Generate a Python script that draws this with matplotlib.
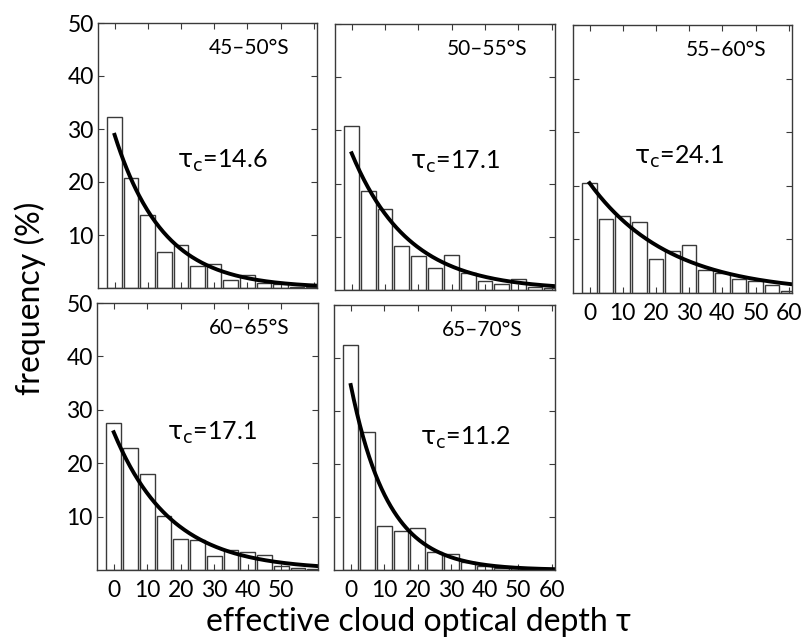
import numpy as np
import matplotlib; matplotlib.use("Agg")
import matplotlib.pyplot as plt

plt.rcParams['font.family'] = ['Lato', 'DejaVu Sans']
plt.rcParams['mathtext.fontset'] = 'custom'
plt.rcParams['mathtext.rm'] = 'DejaVu Sans'

# bin centres of the optical-depth histograms
tau_bins = [0, 5, 10, 15, 20, 25, 30, 35, 40, 45, 50, 55, 60]

regions = ["45\u201350\u00b0S", "50\u201355\u00b0S", "55\u201360\u00b0S",
           "60\u201365\u00b0S", "65\u201370\u00b0S"]
tau_c = [14.6, 17.1, 24.1, 17.1, 11.2]
fit_amp = [28.9, 25.7, 20.5, 25.8, 34.9]

freq_45_50 = [32.2, 20.7, 13.8, 6.8, 8.1, 4.2, 4.6, 1.5, 2.5, 0.9, 0.7, 0.2, 0.1]
freq_50_55 = [30.8, 18.6, 15.2, 8.3, 6.3, 4.2, 6.6, 3.2, 1.6, 1.1, 2.0, 0.5, 0.4]
freq_55_60 = [20.6, 13.8, 14.4, 13.3, 6.3, 7.8, 9.0, 4.2, 3.7, 2.6, 2.2, 1.4, 0.4]
freq_60_65 = [27.6, 22.9, 17.9, 10.1, 5.8, 5.6, 2.7, 3.8, 3.3, 2.9, 0.8, 0.4, 0.2]
freq_65_70 = [42.4, 26.0, 8.3, 7.4, 7.9, 3.4, 3.0, 1.5, 0.8, 0.4, 0.3, 0.2, 0.1]
freqs = [freq_45_50, freq_50_55, freq_55_60, freq_60_65, freq_65_70]

W, H = 805, 642
fig = plt.figure(figsize=(W/100, H/100), dpi=100)

# pixel boxes (left, right, top, bottom) of each panel
boxes = [(98, 317, 23, 288), (335, 555, 24, 290), (573, 792, 25, 293),
         (97, 318, 303, 570), (334, 555, 305, 570)]
xlab_ticks = [None, None, [0, 10, 20, 30, 40, 50, 60],
              [0, 10, 20, 30, 40, 50], [0, 10, 20, 30, 40, 50, 60]]
show_y = [True, False, False, True, False]
# label positions in data coords: region label (x, y), tau_c label (x, y)
reg_pos = [(28.5, 45.3), (28.5, 45.3), (29.0, 45.3), (28.3, 45.3), (27.3, 45.3)]
tc_pos = [(18.8, 24.0), (17.5, 24.0), (13.4, 25.4), (15.8, 25.6), (20.7, 25.0)]

edge = '#3a3a3a'
for k in range(5):
    l, r, t, b = boxes[k]
    ax = fig.add_axes([l/W, 1 - b/H, (r - l)/W, (b - t)/H])
    ax.bar(tau_bins, freqs[k], width=4.4, color='white', edgecolor=edge,
           linewidth=1.0)
    xx = np.linspace(0, 61, 200)
    ax.plot(xx, fit_amp[k]*np.exp(-xx/tau_c[k]), color='black', lw=2.8)
    ax.set_xlim(-5, 61)
    ax.set_ylim(0, 50)
    ax.set_xticks([0, 10, 20, 30, 40, 50, 60])
    ax.set_yticks([10, 20, 30, 40, 50])
    ax.tick_params(direction='in', top=True, right=True, length=4,
                   width=0.8, color=edge, labelsize=16.5, pad=7)
    ax.tick_params(axis='y', pad=3)
    if xlab_ticks[k] is None:
        ax.set_xticklabels([])
    else:
        ax.set_xticks(xlab_ticks[k])
    if not show_y[k]:
        ax.set_yticklabels([])
    for s in ax.spines.values():
        s.set_color(edge)
        s.set_linewidth(1.0)
    ax.text(reg_pos[k][0], reg_pos[k][1], regions[k], fontsize=15,
            ha='left', va='center')
    ax.text(tc_pos[k][0], tc_pos[k][1],
            r'$\mathrm{\tau}_{\mathrm{c}}$' + '=%.1f' % tau_c[k],
            fontsize=18, ha='left', va='center')

fig.text(30/W, 1 - 298/H, 'frequency (%)', rotation=90, fontsize=23,
         ha='center', va='center')
fig.text(418/W, 1 - 622/H, 'effective cloud optical depth \u03c4',
         fontsize=23, ha='center', va='center')

fig.savefig('out.png', dpi=100)
